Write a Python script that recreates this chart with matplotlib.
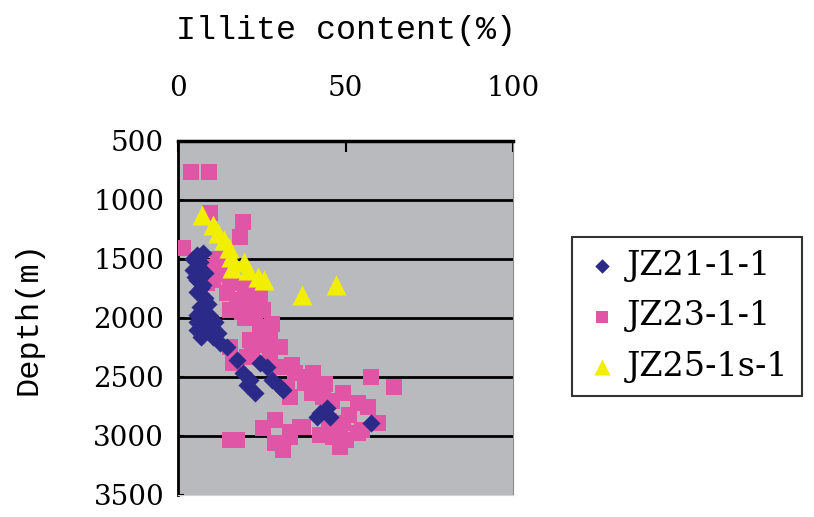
import matplotlib.pyplot as plt

# Illite content (%) vs depth (m) for three wells
jz21_x = [5.7, 7.5, 6.6, 4.5, 5.7, 7.5, 5.7, 8.1, 6.6, 5.7, 5.7, 7.5, 5.7, 9.6, 10.5, 12.6,
          14.7, 9.0, 11.0, 17.7, 19.5, 20.7, 21.6, 23.0, 24.6, 26.6, 28.1, 30.5, 31.4, 41.6,
          42.5, 44.6, 45.5, 57.5, 4.5, 6.0, 8.0, 5.0, 7.0, 9.0, 8.0, 10.0, 12.0, 7.0, 9.5]
jz21_d = [1466, 1449, 1525, 1593, 1678, 1720, 1780, 1830, 1907, 1975, 2034, 2068, 2102, 2127,
          2161, 2212, 2246, 2000, 2034, 2356, 2466, 2568, 2525, 2636, 2381, 2415, 2525, 2585,
          2610, 2839, 2805, 2763, 2839, 2890, 1500, 1560, 1620, 1650, 1750, 1880, 1950, 2080,
          2130, 2160, 1980]

jz23_x = [3.9, 9.3, 1.5, 9.6, 19.5, 18.6, 8.7, 10.5, 15.6, 12.6, 24.6, 8.7, 14.7, 17.7, 22.5,
          25.4, 24.6, 27.5, 30.5, 15.6, 16.5, 20.7, 27.5, 30.5, 35.0, 39.5, 40.1, 32.6, 40.4,
          43.4, 49.4, 53.6, 56.6, 59.6, 49.4, 46.4, 48.5, 53.6, 37.4, 33.5, 57.5, 64.4, 17.7,
          15.6, 25.4, 29.0, 29.0, 31.4, 33.5, 36.5, 33.5, 42.5, 50.0, 48.5, 23.0, 26.0, 20.0,
          21.6, 18.6, 15.6, 12.0, 14.0, 17.0, 20.0, 22.0, 19.0, 28.0, 26.0, 22.0, 34.0, 38.0,
          44.0, 46.0, 51.0, 45.0, 55.0]
jz23_d = [763, 763, 1407, 1110, 1186, 1314, 1568, 1678, 1703, 1593, 1822, 1703, 1788, 1873,
          1907, 1932, 2076, 2161, 2246, 2246, 2381, 2330, 2330, 2415, 2466, 2500, 2636, 2585,
          2466, 2670, 2636, 2720, 2754, 2890, 2890, 3008, 3093, 2975, 2924, 3008, 2500, 2585,
          3034, 3034, 2932, 2864, 3059, 3119, 2966, 2924, 2670, 2992, 3034, 2949, 2000, 2102,
          2000, 2187, 1847, 1932, 1500, 1630, 1700, 1750, 1800, 1950, 2050, 2230, 2280, 2400,
          2550, 2560, 2700, 2820, 2870, 2950]

jz25_x = [7.2, 10.5, 12.0, 13.8, 15.3, 15.9, 16.2, 19.8, 21.0, 24.0, 25.7, 37.0, 47.3]
jz25_d = [1127, 1212, 1280, 1339, 1407, 1483, 1576, 1525, 1593, 1652, 1678, 1805, 1720]

labels = ['JZ21-1-1', 'JZ23-1-1', 'JZ25-1s-1']
x_ticks = [0, 50, 100]
y_ticks = [500, 1000, 1500, 2000, 2500, 3000, 3500]

plt.rcParams['font.family'] = ['DejaVu Serif']

fig = plt.figure(figsize=(8.14, 5.17), dpi=100)
ax = fig.add_axes([0.2187, 0.0426, 0.4115, 0.6847])
ax.set_facecolor('#b9babe')

h2 = ax.scatter(jz23_x, jz23_d, marker='s', s=135, color='#e055a6', linewidths=0, zorder=3)
h1 = ax.scatter(jz21_x, jz21_d, marker='D', s=85, color='#2c2a88', linewidths=0, zorder=4)
h3 = ax.scatter(jz25_x, jz25_d, marker='^', s=210, color='#f2ee00', linewidths=0, zorder=5)

ax.set_xlim(0, 100)
ax.set_ylim(3500, 500)
ax.set_xticks(x_ticks)
ax.set_yticks(y_ticks)
ax.xaxis.tick_top()
ax.xaxis.set_label_position('top')
ax.tick_params(axis='x', direction='in', length=8, width=1.5, pad=28, labelsize=20)
ax.tick_params(axis='y', direction='in', length=4, width=1.5, pad=10, labelsize=20)
for v in y_ticks[1:-1]:
    ax.axhline(v, color='black', lw=2, zorder=2)

ax.spines['top'].set_linewidth(2.5)
ax.spines['left'].set_linewidth(2)
ax.spines['right'].set_color('#8a8a8a')
ax.spines['bottom'].set_color('#d0d0d0')

ax.set_xlabel('Illite content(%)', fontsize=24, labelpad=26, family='Liberation Mono')
ax.set_ylabel('Depth(m)', fontsize=23, labelpad=36, family='Liberation Mono')

leg = fig.legend([h1, h2, h3], labels, loc='upper left', bbox_to_anchor=(0.703, 0.542),
                 fontsize=24, frameon=True, fancybox=False, handletextpad=0.25,
                 borderpad=0.4, labelspacing=0.55, handlelength=1.0, scatterpoints=1,
                 markerscale=0.8, borderaxespad=0)
leg.get_frame().set_edgecolor('black')
leg.get_frame().set_linewidth(1.5)

fig.savefig('out.png', dpi=100)
